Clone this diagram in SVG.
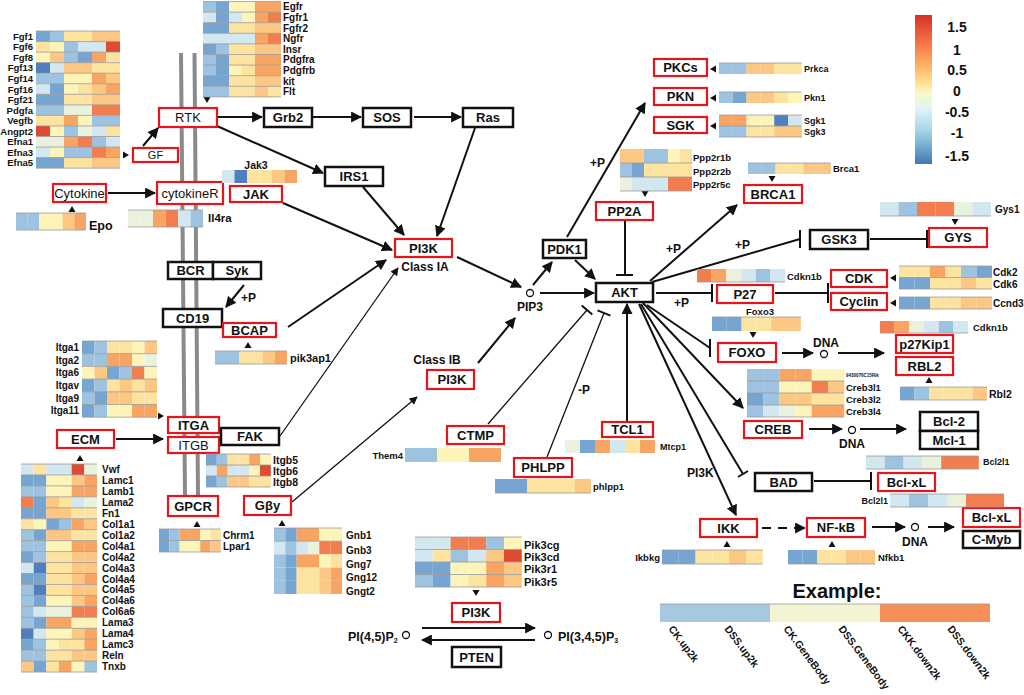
<svg xmlns="http://www.w3.org/2000/svg" width="1024" height="695" viewBox="0 0 1024 695">
<style>
text{font-family:"Liberation Sans",Arial,sans-serif;fill:#111}
.node text{font-size:13px;font-weight:bold;text-anchor:middle;dominant-baseline:central}
.node.nw text{font-weight:normal}
.red rect{fill:#fff;stroke:#e8141b;stroke-width:2.2}
.blk rect{fill:#fff;stroke:#111;stroke-width:2.5}
.gl{font-size:9.5px;font-weight:bold;dominant-baseline:central}
.e{text-anchor:end}
.m{text-anchor:middle}
.lb{font-size:12px;font-weight:bold}
.cn path{fill:none;stroke:#111;stroke-width:2}
.cn path.t{stroke-width:1.3}
.hm rect{width:1px;height:1px}
.sep{fill:none;stroke:#9a9a9a;stroke-width:0.8;vector-effect:non-scaling-stroke}
.b3{fill:#4f7fbf}.b2{fill:#77a5d2}.b1{fill:#9dc3e0}.b0{fill:#d3e7f1}.g{fill:#eaf2de}.y0{fill:#fcf4b8}.y1{fill:#fde3a0}.o1{fill:#fcc782}.o2{fill:#f8a563}.o3{fill:#f27e4f}.r{fill:#dd4b33}
.tri{fill:#111}
.mem{stroke:#8a8a8a;stroke-width:4}
</style>
<defs>
<marker id="ah" viewBox="0 0 10 10" refX="9" refY="5" markerWidth="11" markerHeight="11" markerUnits="userSpaceOnUse" orient="auto"><path d="M0,0L10,5L0,10z" fill="#111"/></marker>
<marker id="ahs" viewBox="0 0 10 10" refX="9" refY="5" markerWidth="9" markerHeight="8" markerUnits="userSpaceOnUse" orient="auto"><path d="M0,0L10,5L0,10z" fill="#111"/></marker>
<linearGradient id="cbar" x1="0" y1="0" x2="0" y2="1">
<stop offset="0" stop-color="#d73027"/><stop offset="0.17" stop-color="#f46d43"/><stop offset="0.33" stop-color="#fdae61"/><stop offset="0.45" stop-color="#fee090"/><stop offset="0.53" stop-color="#f7f9c8"/><stop offset="0.63" stop-color="#e0f3f8"/><stop offset="0.76" stop-color="#abd9e9"/><stop offset="0.88" stop-color="#74add1"/><stop offset="1" stop-color="#4575b4"/>
</linearGradient>
</defs>
<rect width="1024" height="695" fill="#fff"/>

<g id="membrane">
<path class="mem" d="M181,53L185,497M194.5,53L198,497"/>
</g>

<g id="connectors" class="cn">
<path d="M143,146L158,128" marker-end="url(#ah)"/>
<path d="M217,117H262" marker-end="url(#ah)"/>
<path d="M313,117H361" marker-end="url(#ah)"/>
<path d="M414,117H461" marker-end="url(#ah)"/>
<path d="M217,126L323,173" marker-end="url(#ah)"/>
<path d="M108,193H155" marker-end="url(#ah)"/>
<path d="M475,128L437,236" marker-end="url(#ah)"/>
<path d="M363,187L404,235" marker-end="url(#ah)"/>
<path d="M283,203L392,250" marker-end="url(#ah)"/>
<path d="M288,327L386,260" marker-end="url(#ah)"/>
<path class="t" d="M280,436L398,268" marker-end="url(#ahs)"/>
<path d="M244,285L226,307" marker-end="url(#ah)"/>
<path d="M116,439H163" marker-end="url(#ah)"/>
<path class="t" d="M292,502L417,397" marker-end="url(#ahs)"/>
<path d="M457,257L521,287" marker-end="url(#ah)"/>
<path d="M478,363L515,318" marker-end="url(#ah)"/>
<path d="M533,285L552,262" marker-end="url(#ah)"/>
<path d="M540,293H594" marker-end="url(#ah)"/>
<path d="M575,260L595,279" marker-end="url(#ah)"/>
<path d="M567,237L645,103" marker-end="url(#ah)"/>
<path d="M625,221V275M616,275H633"/>
<path d="M627,422V304" marker-end="url(#ah)"/>
<path class="t" d="M488,424L587,310"/>
<path d="M581.7,305.4L592.3,314.6"/>
<path class="t" d="M547,457L604,313"/>
<path d="M597.5,310.4L610.5,315.6"/>
<path d="M650,281L737,205" marker-end="url(#ah)"/>
<path d="M652,282L800,239M800,230V248"/>
<path d="M870,239H927M927,230V248"/>
<path d="M656,293H712M712,284V302"/>
<path d="M775,293H828M828,283V303"/>
<path d="M647,305L710,348M710,339V357"/>
<path d="M782,353H813" marker-end="url(#ah)"/>
<path d="M838,353H884" marker-end="url(#ah)"/>
<path d="M643,303L743,408" marker-end="url(#ah)"/>
<path d="M809,429H842" marker-end="url(#ah)"/>
<path d="M860,429H906" marker-end="url(#ah)"/>
<path d="M641,304L743,474M738,477L748,471"/>
<path d="M814,481H871M871,472V490"/>
<path d="M639,304L736,515" marker-end="url(#ah)"/>
<path d="M762,528H805" stroke-dasharray="9,7" marker-end="url(#ah)"/>
<path d="M872,527H905" marker-end="url(#ah)"/>
<path d="M928,527H954" marker-end="url(#ah)"/>
<path d="M422,628H535" marker-end="url(#ah)"/>
<path d="M535,640H422" marker-end="url(#ah)"/>
<circle cx="530" cy="293" r="3.5" fill="#fff" stroke="#111" stroke-width="1.3"/>
<circle cx="824" cy="354" r="3.5" fill="#fff" stroke="#111" stroke-width="1.3"/>
<circle cx="852" cy="430" r="3.5" fill="#fff" stroke="#111" stroke-width="1.3"/>
<circle cx="915" cy="527" r="3.5" fill="#fff" stroke="#111" stroke-width="1.3"/>
<circle cx="406" cy="635" r="3.5" fill="#fff" stroke="#111" stroke-width="1.3"/>
<circle cx="548" cy="635" r="3.5" fill="#fff" stroke="#111" stroke-width="1.3"/>
</g>

<g id="pointers" class="tri">
<path d="M123,151.5v7l6,-3.5z"/>
<path d="M203.5,97h7l-3.5,6z"/>
<path d="M68.5,212h7l-3.5,-6z"/>
<path d="M244.5,348h7l-3.5,-6z"/>
<path d="M158,412.5v7l6,-3.5z"/>
<path d="M76.5,461h7l-3.5,-6z"/>
<path d="M193.5,527h7l-3.5,-6z"/>
<path d="M278.5,526h7l-3.5,-6z"/>
<path d="M472.5,590h7l-3.5,6z"/>
<path d="M716,65.5v7l-6,-3.5z"/>
<path d="M716,94.5v7l-6,-3.5z"/>
<path d="M716,122.5v7l-6,-3.5z"/>
<path d="M641.5,191h7l-3.5,6z"/>
<path d="M768.5,176h7l-3.5,6z"/>
<path d="M951.5,219h7l-3.5,6z"/>
<path d="M896,274.5v7l-6,-3.5z"/>
<path d="M896,299.5v7l-6,-3.5z"/>
<path d="M749.5,332h7l-3.5,6z"/>
<path d="M925.5,383h7l-3.5,-6z"/>
<path d="M723.5,547h7l-3.5,-6z"/>
<path d="M828.5,547h7l-3.5,-6z"/>
</g>

<g id="n-gf" class="node red nw"><rect x="133" y="148" width="45" height="14"/><text x="155.5" y="155" style="font-size:11px">GF</text></g>
<g id="n-rtk" class="node red nw"><rect x="159" y="108" width="58" height="19"/><text x="188" y="117.5">RTK</text></g>
<g id="n-grb2" class="node blk"><rect x="264" y="108" width="48" height="19"/><text x="288" y="117.5">Grb2</text></g>
<g id="n-sos" class="node blk"><rect x="363" y="108" width="48" height="19"/><text x="387" y="117.5">SOS</text></g>
<g id="n-ras" class="node blk"><rect x="463" y="108" width="50" height="19"/><text x="488" y="117.5">Ras</text></g>
<g id="n-irs1" class="node blk"><rect x="325" y="167" width="58" height="19"/><text x="354" y="176.5">IRS1</text></g>
<g id="n-jak" class="node red"><rect x="230" y="186" width="52" height="16"/><text x="256" y="194">JAK</text></g>
<g id="n-cytokine" class="node red nw"><rect x="53" y="184" width="53" height="18"/><text x="79.5" y="193">Cytokine</text></g>
<g id="n-cytokiner" class="node red nw"><rect x="157" y="182" width="66" height="22"/><text x="190" y="193">cytokineR</text></g>
<g id="n-bcr" class="node blk"><rect x="168" y="262" width="45" height="17"/><text x="190.5" y="270.5">BCR</text></g>
<g id="n-syk" class="node blk"><rect x="213" y="262" width="48" height="17"/><text x="237" y="270.5">Syk</text></g>
<g id="n-cd19" class="node blk"><rect x="163" y="309" width="59" height="18"/><text x="192.5" y="318">CD19</text></g>
<g id="n-bcap" class="node red"><rect x="223" y="323" width="53" height="14"/><text x="249.5" y="330">BCAP</text></g>
<g id="n-itga" class="node red"><rect x="168" y="417" width="51" height="16"/><text x="193.5" y="425">ITGA</text></g>
<g id="n-itgb" class="node red nw"><rect x="168" y="437" width="51" height="16"/><text x="193.5" y="445">ITGB</text></g>
<g id="n-fak" class="node blk"><rect x="221" y="428" width="58" height="17"/><text x="250" y="436.5">FAK</text></g>
<g id="n-ecm" class="node red"><rect x="57" y="430" width="57" height="18"/><text x="85.5" y="439">ECM</text></g>
<g id="n-gpcr" class="node red"><rect x="168" y="496" width="50" height="20"/><text x="193" y="506">GPCR</text></g>
<g id="n-gby" class="node red"><rect x="244" y="496" width="47" height="19"/><text x="267.5" y="505.5">Gβy</text></g>
<g id="n-pi3k-ia" class="node red"><rect x="395" y="239" width="57" height="18"/><text x="423.5" y="248">PI3K</text></g>
<g id="n-pi3k-ib" class="node red"><rect x="427" y="370" width="47" height="19"/><text x="452" y="379.5">PI3K</text></g>
<g id="n-pdk1" class="node blk"><rect x="543" y="240" width="43" height="18"/><text x="564.5" y="249">PDK1</text></g>
<g id="n-akt" class="node blk"><rect x="596" y="283" width="57" height="19"/><text x="624.5" y="292.5">AKT</text></g>
<g id="n-pp2a" class="node red"><rect x="596" y="202" width="57" height="18"/><text x="624.5" y="211">PP2A</text></g>
<g id="n-pkcs" class="node red"><rect x="654" y="59" width="53" height="17"/><text x="680.5" y="67.5">PKCs</text></g>
<g id="n-pkn" class="node red"><rect x="654" y="88" width="53" height="17"/><text x="680.5" y="96.5">PKN</text></g>
<g id="n-sgk" class="node red"><rect x="654" y="117" width="53" height="16"/><text x="680.5" y="125">SGK</text></g>
<g id="n-brca1" class="node red"><rect x="744" y="185" width="58" height="18"/><text x="773" y="194">BRCA1</text></g>
<g id="n-gsk3" class="node blk"><rect x="810" y="230" width="58" height="19"/><text x="839" y="239.5">GSK3</text></g>
<g id="n-gys" class="node red"><rect x="929" y="228" width="58" height="19"/><text x="958" y="237.5">GYS</text></g>
<g id="n-p27" class="node red"><rect x="717" y="285" width="56" height="18"/><text x="745" y="294">P27</text></g>
<g id="n-cdk" class="node red"><rect x="831" y="270" width="56" height="17"/><text x="859" y="278.5">CDK</text></g>
<g id="n-cyclin" class="node red"><rect x="831" y="293" width="56" height="17"/><text x="859" y="301.5">Cyclin</text></g>
<g id="n-foxo" class="node red"><rect x="718" y="343" width="58" height="19"/><text x="747" y="352.5">FOXO</text></g>
<g id="n-p27kip1" class="node red"><rect x="896" y="335" width="57" height="18"/><text x="924.5" y="344">p27Kip1</text></g>
<g id="n-rbl2" class="node red"><rect x="896" y="357" width="57" height="18"/><text x="924.5" y="366">RBL2</text></g>
<g id="n-creb" class="node red"><rect x="744" y="421" width="58" height="17"/><text x="773" y="429.5">CREB</text></g>
<g id="n-bcl2" class="node blk"><rect x="920" y="412" width="58" height="19"/><text x="949" y="421.5">Bcl-2</text></g>
<g id="n-mcl1" class="node blk"><rect x="920" y="431" width="58" height="18"/><text x="949" y="440">Mcl-1</text></g>
<g id="n-bad" class="node blk"><rect x="755" y="473" width="57" height="18"/><text x="783.5" y="482">BAD</text></g>
<g id="n-bclxl" class="node red"><rect x="878" y="473" width="57" height="18"/><text x="906.5" y="482">Bcl-xL</text></g>
<g id="n-ikk" class="node red"><rect x="700" y="519" width="57" height="18"/><text x="728.5" y="528">IKK</text></g>
<g id="n-nfkb" class="node red"><rect x="807" y="518" width="58" height="19"/><text x="836" y="527.5">NF-kB</text></g>
<g id="n-bclxl2" class="node red"><rect x="963" y="508" width="57" height="19"/><text x="991.5" y="517.5">Bcl-xL</text></g>
<g id="n-cmyb" class="node blk"><rect x="963" y="531" width="57" height="17"/><text x="991.5" y="539.5">C-Myb</text></g>
<g id="n-ctmp" class="node red"><rect x="447" y="426" width="57" height="18"/><text x="475.5" y="435">CTMP</text></g>
<g id="n-phlpp" class="node red"><rect x="514" y="458" width="58" height="19"/><text x="543" y="467.5">PHLPP</text></g>
<g id="n-tcl1" class="node red"><rect x="602" y="422" width="51" height="15"/><text x="627.5" y="429.5">TCL1</text></g>
<g id="n-pi3k-bot" class="node red"><rect x="452" y="603" width="48" height="19"/><text x="476" y="612.5">PI3K</text></g>
<g id="n-pten" class="node blk"><rect x="452" y="647" width="49" height="20"/><text x="476.5" y="657">PTEN</text></g>

<g id="labels">
<text class="lb" x="241" y="302">+P</text>
<text class="lb" x="590" y="167">+P</text>
<text class="lb" x="666" y="253">+P</text>
<text class="lb" x="735" y="249">+P</text>
<text class="lb" x="674" y="307">+P</text>
<text class="lb" x="578" y="394">-P</text>
<text class="lb" x="687" y="477">PI3K</text>
<text class="lb m" x="530" y="311">PIP3</text>
<text class="lb m" x="425" y="271">Class IA</text>
<text class="lb m" x="437" y="364">Class IB</text>
<text class="lb m" x="826" y="347">DNA</text>
<text class="lb m" x="852" y="448">DNA</text>
<text class="lb m" x="915" y="546">DNA</text>
<text class="lb" x="348" y="641" style="font-size:12.5px">PI(4,5)P<tspan font-size="7" dy="2">2</tspan></text>
<text class="lb" x="558" y="641" style="font-size:12.5px">PI(3,4,5)P<tspan font-size="7" dy="2">3</tspan></text>
</g>

<g id="hm-fgf" class="hm" transform="translate(36,31) scale(14,10.55)">
<rect class="b2" x="0" y="0"/><rect class="b1" x="1" y="0"/><rect class="y1" x="2" y="0"/><rect class="y1" x="3" y="0"/><rect class="o1" x="4" y="0"/><rect class="o1" x="5" y="0"/>
<rect class="y1" x="0" y="1"/><rect class="y0" x="1" y="1"/><rect class="b1" x="2" y="1"/><rect class="b0" x="3" y="1"/><rect class="b0" x="4" y="1"/><rect class="r" x="5" y="1"/>
<rect class="y0" x="0" y="2"/><rect class="o1" x="1" y="2"/><rect class="b1" x="2" y="2"/><rect class="b2" x="3" y="2"/><rect class="o2" x="4" y="2"/><rect class="y1" x="5" y="2"/>
<rect class="b3" x="0" y="3"/><rect class="b0" x="1" y="3"/><rect class="o1" x="2" y="3"/><rect class="o1" x="3" y="3"/><rect class="y1" x="4" y="3"/><rect class="y1" x="5" y="3"/>
<rect class="b1" x="0" y="4"/><rect class="b1" x="1" y="4"/><rect class="y0" x="2" y="4"/><rect class="y0" x="3" y="4"/><rect class="o2" x="4" y="4"/><rect class="o1" x="5" y="4"/>
<rect class="b0" x="0" y="5"/><rect class="b2" x="1" y="5"/><rect class="y0" x="2" y="5"/><rect class="y1" x="3" y="5"/><rect class="o1" x="4" y="5"/><rect class="o2" x="5" y="5"/>
<rect class="b2" x="0" y="6"/><rect class="b2" x="1" y="6"/><rect class="y1" x="2" y="6"/><rect class="y1" x="3" y="6"/><rect class="o1" x="4" y="6"/><rect class="o1" x="5" y="6"/>
<rect class="b1" x="0" y="7"/><rect class="b1" x="1" y="7"/><rect class="g" x="2" y="7"/><rect class="g" x="3" y="7"/><rect class="o3" x="4" y="7"/><rect class="o3" x="5" y="7"/>
<rect class="y1" x="0" y="8"/><rect class="y1" x="1" y="8"/><rect class="o2" x="2" y="8"/><rect class="y0" x="3" y="8"/><rect class="b1" x="4" y="8"/><rect class="b1" x="5" y="8"/>
<rect class="r" x="0" y="9"/><rect class="y0" x="1" y="9"/><rect class="b1" x="2" y="9"/><rect class="g" x="3" y="9"/><rect class="b0" x="4" y="9"/><rect class="y1" x="5" y="9"/>
<rect class="g" x="0" y="10"/><rect class="g" x="1" y="10"/><rect class="o2" x="2" y="10"/><rect class="o3" x="3" y="10"/><rect class="b1" x="4" y="10"/><rect class="b0" x="5" y="10"/>
<rect class="b0" x="0" y="11"/><rect class="y0" x="1" y="11"/><rect class="b1" x="2" y="11"/><rect class="b1" x="3" y="11"/><rect class="o3" x="4" y="11"/><rect class="o2" x="5" y="11"/>
<rect class="b2" x="0" y="12"/><rect class="b2" x="1" y="12"/><rect class="y1" x="2" y="12"/><rect class="y1" x="3" y="12"/><rect class="o1" x="4" y="12"/><rect class="o1" x="5" y="12"/>
<path class="sep" d="M0,0H6M0,1H6M0,2H6M0,3H6M0,4H6M0,5H6M0,6H6M0,7H6M0,8H6M0,9H6M0,10H6M0,11H6M0,12H6M0,13H6"/>
</g>
<g id="lbl-fgf" class="gl e">
<text x="33" y="36.3">Fgf1</text><text x="33" y="46.8">Fgf6</text><text x="33" y="57.4">Fgf8</text><text x="33" y="67.9">Fgf13</text><text x="33" y="78.5">Fgf14</text><text x="33" y="89">Fgf16</text><text x="33" y="99.6">Fgf21</text><text x="33" y="110.1">Pdgfa</text><text x="33" y="120.7">Vegfb</text><text x="33" y="131.2">Angpt2</text><text x="33" y="141.8">Efna1</text><text x="33" y="152.3">Efna3</text><text x="33" y="162.9">Efna5</text>
</g>

<g id="hm-egfr" class="hm" transform="translate(203,1.5) scale(13,10.6)">
<rect class="b1" x="0" y="0"/><rect class="b2" x="1" y="0"/><rect class="y0" x="2" y="0"/><rect class="y0" x="3" y="0"/><rect class="o2" x="4" y="0"/><rect class="o2" x="5" y="0"/>
<rect class="b0" x="0" y="1"/><rect class="b2" x="1" y="1"/><rect class="b0" x="2" y="1"/><rect class="y0" x="3" y="1"/><rect class="o2" x="4" y="1"/><rect class="o3" x="5" y="1"/>
<rect class="b2" x="0" y="2"/><rect class="b2" x="1" y="2"/><rect class="y1" x="2" y="2"/><rect class="y1" x="3" y="2"/><rect class="o1" x="4" y="2"/><rect class="o1" x="5" y="2"/>
<rect class="b0" x="0" y="3"/><rect class="b0" x="1" y="3"/><rect class="b0" x="2" y="3"/><rect class="b0" x="3" y="3"/><rect class="o2" x="4" y="3"/><rect class="o3" x="5" y="3"/>
<rect class="b2" x="0" y="4"/><rect class="b1" x="1" y="4"/><rect class="y1" x="2" y="4"/><rect class="y1" x="3" y="4"/><rect class="o1" x="4" y="4"/><rect class="o1" x="5" y="4"/>
<rect class="b1" x="0" y="5"/><rect class="b2" x="1" y="5"/><rect class="y1" x="2" y="5"/><rect class="y1" x="3" y="5"/><rect class="o2" x="4" y="5"/><rect class="o2" x="5" y="5"/>
<rect class="b1" x="0" y="6"/><rect class="b2" x="1" y="6"/><rect class="y0" x="2" y="6"/><rect class="y1" x="3" y="6"/><rect class="o2" x="4" y="6"/><rect class="o2" x="5" y="6"/>
<rect class="b2" x="0" y="7"/><rect class="b2" x="1" y="7"/><rect class="y1" x="2" y="7"/><rect class="y1" x="3" y="7"/><rect class="o1" x="4" y="7"/><rect class="o1" x="5" y="7"/>
<rect class="b1" x="0" y="8"/><rect class="b1" x="1" y="8"/><rect class="y1" x="2" y="8"/><rect class="y1" x="3" y="8"/><rect class="o1" x="4" y="8"/><rect class="y1" x="5" y="8"/>
<path class="sep" d="M0,0H6M0,1H6M0,2H6M0,3H6M0,4H6M0,5H6M0,6H6M0,7H6M0,8H6M0,9H6"/>
</g>
<g id="lbl-egfr" class="gl" style="font-size:10px">
<text x="283" y="6.8">Egfr</text><text x="283" y="17.4">Fgfr1</text><text x="283" y="28">Fgfr2</text><text x="283" y="38.6">Ngfr</text><text x="283" y="49.2">Insr</text><text x="283" y="59.8">Pdgfra</text><text x="283" y="70.4">Pdgfrb</text><text x="283" y="81">kit</text><text x="283" y="91.6">Flt</text>
</g>

<g id="hm-jak3" class="hm" transform="translate(222,170) scale(12.5,13)">
<rect class="b0" x="0" y="0"/><rect class="b3" x="1" y="0"/><rect class="y1" x="2" y="0"/><rect class="y1" x="3" y="0"/><rect class="o1" x="4" y="0"/><rect class="o2" x="5" y="0"/>
</g>
<text class="gl m" x="256" y="164.5" style="font-size:10.5px">Jak3</text>

<g id="hm-epo" class="hm" transform="translate(16,213) scale(11.67,17)">
<rect class="b1" x="0" y="0"/><rect class="b1" x="1" y="0"/><rect class="y0" x="2" y="0"/><rect class="y0" x="3" y="0"/><rect class="o1" x="4" y="0"/><rect class="o2" x="5" y="0"/>
<path class="sep" d="M0,0H6M0,1H6"/>
</g>
<text class="gl" x="89" y="226" style="font-size:12.5px">Epo</text>

<g id="hm-il4ra" class="hm" transform="translate(128,210) scale(12.5,17)">
<rect class="g" x="0" y="0"/><rect class="g" x="1" y="0"/><rect class="o2" x="2" y="0"/><rect class="o3" x="3" y="0"/><rect class="b0" x="4" y="0"/><rect class="b1" x="5" y="0"/>
<path class="sep" d="M0,0H6M0,1H6"/>
</g>
<text class="gl" x="208" y="218" style="font-size:11.5px">Il4ra</text>

<g id="hm-pik3ap1" class="hm" transform="translate(215,351) scale(12,13)">
<rect class="b1" x="0" y="0"/><rect class="b1" x="1" y="0"/><rect class="y1" x="2" y="0"/><rect class="y1" x="3" y="0"/><rect class="o1" x="4" y="0"/><rect class="o2" x="5" y="0"/>
<path class="sep" d="M0,0H6M0,1H6"/>
</g>
<text class="gl" x="290" y="358" style="font-size:11px">pik3ap1</text>

<g id="hm-itga" class="hm" transform="translate(82,341) scale(12.5,12.7)">
<rect class="b2" x="0" y="0"/><rect class="b1" x="1" y="0"/><rect class="y1" x="2" y="0"/><rect class="y1" x="3" y="0"/><rect class="y0" x="4" y="0"/><rect class="o1" x="5" y="0"/>
<rect class="b1" x="0" y="1"/><rect class="b1" x="1" y="1"/><rect class="o2" x="2" y="1"/><rect class="o2" x="3" y="1"/><rect class="y0" x="4" y="1"/><rect class="g" x="5" y="1"/>
<rect class="y0" x="0" y="2"/><rect class="o1" x="1" y="2"/><rect class="b2" x="2" y="2"/><rect class="b1" x="3" y="2"/><rect class="o3" x="4" y="2"/><rect class="y0" x="5" y="2"/>
<rect class="b2" x="0" y="3"/><rect class="b1" x="1" y="3"/><rect class="y1" x="2" y="3"/><rect class="o1" x="3" y="3"/><rect class="y1" x="4" y="3"/><rect class="o1" x="5" y="3"/>
<rect class="b1" x="0" y="4"/><rect class="b2" x="1" y="4"/><rect class="o1" x="2" y="4"/><rect class="o1" x="3" y="4"/><rect class="y1" x="4" y="4"/><rect class="y1" x="5" y="4"/>
<rect class="b2" x="0" y="5"/><rect class="b1" x="1" y="5"/><rect class="y0" x="2" y="5"/><rect class="y0" x="3" y="5"/><rect class="o2" x="4" y="5"/><rect class="o2" x="5" y="5"/>
<path class="sep" d="M0,0H6M0,1H6M0,2H6M0,3H6M0,4H6M0,5H6M0,6H6"/>
</g>
<g id="lbl-itga" class="gl e" style="font-size:10px">
<text x="79" y="347.4">Itga1</text><text x="79" y="360">Itga2</text><text x="79" y="372.8">Itga6</text><text x="79" y="385.5">Itgav</text><text x="79" y="398.2">Itga9</text><text x="79" y="410.9">Itga11</text>
</g>

<g id="hm-vwf" class="hm" transform="translate(21,464) scale(12.67,10.95)">
<rect class="b0" x="0" y="0"/><rect class="y1" x="1" y="0"/><rect class="b0" x="2" y="0"/><rect class="b0" x="3" y="0"/><rect class="r" x="4" y="0"/><rect class="g" x="5" y="0"/>
<rect class="b2" x="0" y="1"/><rect class="b2" x="1" y="1"/><rect class="y0" x="2" y="1"/><rect class="y0" x="3" y="1"/><rect class="o1" x="4" y="1"/><rect class="o2" x="5" y="1"/>
<rect class="b1" x="0" y="2"/><rect class="b1" x="1" y="2"/><rect class="y0" x="2" y="2"/><rect class="y0" x="3" y="2"/><rect class="o2" x="4" y="2"/><rect class="o2" x="5" y="2"/>
<rect class="o3" x="0" y="3"/><rect class="b2" x="1" y="3"/><rect class="o1" x="2" y="3"/><rect class="y1" x="3" y="3"/><rect class="b0" x="4" y="3"/><rect class="g" x="5" y="3"/>
<rect class="b2" x="0" y="4"/><rect class="b2" x="1" y="4"/><rect class="o1" x="2" y="4"/><rect class="o1" x="3" y="4"/><rect class="y1" x="4" y="4"/><rect class="y1" x="5" y="4"/>
<rect class="y1" x="0" y="5"/><rect class="y0" x="1" y="5"/><rect class="b2" x="2" y="5"/><rect class="b1" x="3" y="5"/><rect class="o2" x="4" y="5"/><rect class="o1" x="5" y="5"/>
<rect class="b1" x="0" y="6"/><rect class="b2" x="1" y="6"/><rect class="o1" x="2" y="6"/><rect class="o1" x="3" y="6"/><rect class="y1" x="4" y="6"/><rect class="y1" x="5" y="6"/>
<rect class="b1" x="0" y="7"/><rect class="b1" x="1" y="7"/><rect class="y0" x="2" y="7"/><rect class="y0" x="3" y="7"/><rect class="o2" x="4" y="7"/><rect class="o2" x="5" y="7"/>
<rect class="b2" x="0" y="8"/><rect class="b1" x="1" y="8"/><rect class="y1" x="2" y="8"/><rect class="y1" x="3" y="8"/><rect class="o1" x="4" y="8"/><rect class="o1" x="5" y="8"/>
<rect class="b0" x="0" y="9"/><rect class="b3" x="1" y="9"/><rect class="y1" x="2" y="9"/><rect class="y1" x="3" y="9"/><rect class="o1" x="4" y="9"/><rect class="o1" x="5" y="9"/>
<rect class="b2" x="0" y="10"/><rect class="b2" x="1" y="10"/><rect class="y1" x="2" y="10"/><rect class="y1" x="3" y="10"/><rect class="o1" x="4" y="10"/><rect class="o2" x="5" y="10"/>
<rect class="b1" x="0" y="11"/><rect class="b3" x="1" y="11"/><rect class="y1" x="2" y="11"/><rect class="y1" x="3" y="11"/><rect class="o1" x="4" y="11"/><rect class="o1" x="5" y="11"/>
<rect class="b1" x="0" y="12"/><rect class="b2" x="1" y="12"/><rect class="y0" x="2" y="12"/><rect class="y0" x="3" y="12"/><rect class="o1" x="4" y="12"/><rect class="o2" x="5" y="12"/>
<rect class="b1" x="0" y="13"/><rect class="b0" x="1" y="13"/><rect class="g" x="2" y="13"/><rect class="g" x="3" y="13"/><rect class="o3" x="4" y="13"/><rect class="o3" x="5" y="13"/>
<rect class="b1" x="0" y="14"/><rect class="b2" x="1" y="14"/><rect class="o2" x="2" y="14"/><rect class="o2" x="3" y="14"/><rect class="y0" x="4" y="14"/><rect class="y0" x="5" y="14"/>
<rect class="b3" x="0" y="15"/><rect class="b0" x="1" y="15"/><rect class="y0" x="2" y="15"/><rect class="y0" x="3" y="15"/><rect class="o1" x="4" y="15"/><rect class="o2" x="5" y="15"/>
<rect class="b2" x="0" y="16"/><rect class="b1" x="1" y="16"/><rect class="y0" x="2" y="16"/><rect class="y1" x="3" y="16"/><rect class="y1" x="4" y="16"/><rect class="o2" x="5" y="16"/>
<rect class="b1" x="0" y="17"/><rect class="b1" x="1" y="17"/><rect class="y1" x="2" y="17"/><rect class="y1" x="3" y="17"/><rect class="o1" x="4" y="17"/><rect class="o1" x="5" y="17"/>
<rect class="o1" x="0" y="18"/><rect class="b2" x="1" y="18"/><rect class="y1" x="2" y="18"/><rect class="o2" x="3" y="18"/><rect class="y0" x="4" y="18"/><rect class="b1" x="5" y="18"/>
<path class="sep" d="M0,0H6M0,1H6M0,2H6M0,3H6M0,4H6M0,5H6M0,6H6M0,7H6M0,8H6M0,9H6M0,10H6M0,11H6M0,12H6M0,13H6M0,14H6M0,15H6M0,16H6M0,17H6M0,18H6M0,19H6"/>
</g>
<g id="lbl-vwf" class="gl" style="font-size:10px">
<text x="102" y="469.5">Vwf</text><text x="102" y="480.4">Lamc1</text><text x="102" y="491.4">Lamb1</text><text x="102" y="502.3">Lama2</text><text x="102" y="513.3">Fn1</text><text x="102" y="524.2">Col1a1</text><text x="102" y="535.2">Col1a2</text><text x="102" y="546.1">Col4a1</text><text x="102" y="557.1">Col4a2</text><text x="102" y="568">Col4a3</text><text x="102" y="579">Col4a4</text><text x="102" y="589.9">Col4a5</text><text x="102" y="600.9">Col4a6</text><text x="102" y="611.8">Col6a6</text><text x="102" y="622.8">Lama3</text><text x="102" y="633.7">Lama4</text><text x="102" y="644.7">Lamc3</text><text x="102" y="655.6">Reln</text><text x="102" y="666.6">Tnxb</text>
</g>

<g id="hm-itgb" class="hm" transform="translate(206,454) scale(10.8,11)">
<rect class="b2" x="0" y="0"/><rect class="b1" x="1" y="0"/><rect class="y1" x="2" y="0"/><rect class="y1" x="3" y="0"/><rect class="o2" x="4" y="0"/><rect class="y0" x="5" y="0"/>
<rect class="b0" x="0" y="1"/><rect class="o2" x="1" y="1"/><rect class="b0" x="2" y="1"/><rect class="b0" x="3" y="1"/><rect class="y0" x="4" y="1"/><rect class="r" x="5" y="1"/>
<rect class="b2" x="0" y="2"/><rect class="b1" x="1" y="2"/><rect class="o1" x="2" y="2"/><rect class="o1" x="3" y="2"/><rect class="y1" x="4" y="2"/><rect class="y1" x="5" y="2"/>
<path class="sep" d="M0,0H6M0,1H6M0,2H6M0,3H6"/>
</g>
<g id="lbl-itgb" class="gl" style="font-size:10.5px">
<text x="273" y="459.5">Itgb5</text><text x="273" y="470.5">Itgb6</text><text x="273" y="481.5">Itgb8</text>
</g>

<g id="hm-chrm" class="hm" transform="translate(159,529) scale(10.3,11.5)">
<rect class="b2" x="0" y="0"/><rect class="b1" x="1" y="0"/><rect class="o2" x="2" y="0"/><rect class="o2" x="3" y="0"/><rect class="y0" x="4" y="0"/><rect class="y1" x="5" y="0"/>
<rect class="b2" x="0" y="1"/><rect class="b1" x="1" y="1"/><rect class="y0" x="2" y="1"/><rect class="y0" x="3" y="1"/><rect class="o2" x="4" y="1"/><rect class="o1" x="5" y="1"/>
<path class="sep" d="M0,0H6M0,1H6M0,2H6"/>
</g>
<g id="lbl-chrm" class="gl" style="font-size:10px">
<text x="223" y="535">Chrm1</text><text x="223" y="546.5">Lpar1</text>
</g>

<g id="hm-gnb" class="hm" transform="translate(274,528) scale(11.33,13.2)">
<rect class="b1" x="0" y="0"/><rect class="b2" x="1" y="0"/><rect class="o2" x="2" y="0"/><rect class="o2" x="3" y="0"/><rect class="y0" x="4" y="0"/><rect class="y0" x="5" y="0"/>
<rect class="b0" x="0" y="1"/><rect class="b1" x="1" y="1"/><rect class="b0" x="2" y="1"/><rect class="g" x="3" y="1"/><rect class="o3" x="4" y="1"/><rect class="o3" x="5" y="1"/>
<rect class="b1" x="0" y="2"/><rect class="b2" x="1" y="2"/><rect class="o2" x="2" y="2"/><rect class="o2" x="3" y="2"/><rect class="y0" x="4" y="2"/><rect class="y1" x="5" y="2"/>
<rect class="b1" x="0" y="3"/><rect class="b2" x="1" y="3"/><rect class="y1" x="2" y="3"/><rect class="y1" x="3" y="3"/><rect class="o1" x="4" y="3"/><rect class="o2" x="5" y="3"/>
<rect class="b1" x="0" y="4"/><rect class="b2" x="1" y="4"/><rect class="y1" x="2" y="4"/><rect class="y1" x="3" y="4"/><rect class="o1" x="4" y="4"/><rect class="o2" x="5" y="4"/>
<path class="sep" d="M0,0H6M0,1H6"/>
</g>
<g id="lbl-gnb" class="gl" style="font-size:10px">
<text x="346" y="535">Gnb1</text><text x="346" y="550">Gnb3</text><text x="346" y="564">Gng7</text><text x="346" y="577.5">Gng12</text><text x="346" y="591">Gngt2</text>
</g>

<g id="hm-pik3" class="hm" transform="translate(415,537) scale(17.8,12.5)">
<rect class="b0" x="0" y="0"/><rect class="b0" x="1" y="0"/><rect class="o3" x="2" y="0"/><rect class="o3" x="3" y="0"/><rect class="b1" x="4" y="0"/><rect class="y0" x="5" y="0"/>
<rect class="b0" x="0" y="1"/><rect class="y1" x="1" y="1"/><rect class="b1" x="2" y="1"/><rect class="b0" x="3" y="1"/><rect class="o1" x="4" y="1"/><rect class="r" x="5" y="1"/>
<rect class="b2" x="0" y="2"/><rect class="b2" x="1" y="2"/><rect class="y0" x="2" y="2"/><rect class="y0" x="3" y="2"/><rect class="o2" x="4" y="2"/><rect class="o1" x="5" y="2"/>
<rect class="b1" x="0" y="3"/><rect class="b2" x="1" y="3"/><rect class="y0" x="2" y="3"/><rect class="y1" x="3" y="3"/><rect class="o2" x="4" y="3"/><rect class="o1" x="5" y="3"/>
<path class="sep" d="M0,0H6M0,1H6M0,2H6M0,3H6M0,4H6"/>
</g>
<g id="lbl-pik3" class="gl" style="font-size:11px">
<text x="524" y="544.5">Pik3cg</text><text x="524" y="556.5">Pik3cd</text><text x="524" y="569">Pik3r1</text><text x="524" y="581.5">Pik3r5</text>
</g>

<g id="hm-them4" class="hm" transform="translate(405,448) scale(16,14)">
<rect class="b1" x="0" y="0"/><rect class="b1" x="1" y="0"/><rect class="y0" x="2" y="0"/><rect class="y0" x="3" y="0"/><rect class="o2" x="4" y="0"/><rect class="o2" x="5" y="0"/>
</g>
<text class="gl e" x="403" y="455">Them4</text>

<g id="hm-phlpp1" class="hm" transform="translate(495,479) scale(16,14)">
<rect class="b2" x="0" y="0"/><rect class="b2" x="1" y="0"/><rect class="y1" x="2" y="0"/><rect class="y1" x="3" y="0"/><rect class="y1" x="4" y="0"/><rect class="o1" x="5" y="0"/>
<path class="sep" d="M0,1H6"/>
</g>
<text class="gl" x="593" y="486">phlpp1</text>

<g id="hm-mtcp1" class="hm" transform="translate(565,440) scale(15,13)">
<rect class="g" x="0" y="0"/><rect class="b2" x="1" y="0"/><rect class="o2" x="2" y="0"/><rect class="b0" x="3" y="0"/><rect class="y1" x="4" y="0"/><rect class="o2" x="5" y="0"/>
</g>
<text class="gl" x="660" y="447" style="font-size:9px">Mtcp1</text>

<g id="hm-prkca" class="hm" transform="translate(719,63) scale(13.8,11)">
<rect class="b1" x="0" y="0"/><rect class="b1" x="1" y="0"/><rect class="o1" x="2" y="0"/><rect class="o1" x="3" y="0"/><rect class="y1" x="4" y="0"/><rect class="y1" x="5" y="0"/>
<path class="sep" d="M0,0H6"/>
</g>
<text class="gl" x="804" y="68.5" style="font-size:9px">Prkca</text>
<g id="hm-pkn1" class="hm" transform="translate(719,92) scale(13.8,11)">
<rect class="b1" x="0" y="0"/><rect class="b2" x="1" y="0"/><rect class="o1" x="2" y="0"/><rect class="o1" x="3" y="0"/><rect class="y1" x="4" y="0"/><rect class="y0" x="5" y="0"/>
<path class="sep" d="M0,0H6"/>
</g>
<text class="gl" x="804" y="98" style="font-size:9px">Pkn1</text>
<g id="hm-sgk" class="hm" transform="translate(719,115) scale(13.8,11)">
<rect class="o2" x="0" y="0"/><rect class="o2" x="1" y="0"/><rect class="y0" x="2" y="0"/><rect class="y0" x="3" y="0"/><rect class="b3" x="4" y="0"/><rect class="b0" x="5" y="0"/>
<rect class="b1" x="0" y="1"/><rect class="b1" x="1" y="1"/><rect class="y1" x="2" y="1"/><rect class="y1" x="3" y="1"/><rect class="o1" x="4" y="1"/><rect class="o1" x="5" y="1"/>
<path class="sep" d="M0,0H6M0,1H6M0,2H6"/>
</g>
<g class="gl" style="font-size:9px"><text x="804" y="120.5">Sgk1</text><text x="804" y="131.5">Sgk3</text></g>

<g id="hm-ppp2r" class="hm" transform="translate(620,149) scale(12,14)">
<rect class="o1" x="0" y="0"/><rect class="o1" x="1" y="0"/><rect class="b1" x="2" y="0"/><rect class="b1" x="3" y="0"/><rect class="y0" x="4" y="0"/><rect class="y1" x="5" y="0"/>
<rect class="b1" x="0" y="1"/><rect class="b2" x="1" y="1"/><rect class="y1" x="2" y="1"/><rect class="y1" x="3" y="1"/><rect class="y1" x="4" y="1"/><rect class="y1" x="5" y="1"/>
<rect class="g" x="0" y="2"/><rect class="b0" x="1" y="2"/><rect class="b0" x="2" y="2"/><rect class="b0" x="3" y="2"/><rect class="o3" x="4" y="2"/><rect class="o3" x="5" y="2"/>
<path class="sep" d="M0,1H6M0,2H6M0,3H6"/>
</g>
<g class="gl"><text x="693" y="157">Ppp2r1b</text><text x="693" y="171">Ppp2r2b</text><text x="693" y="184">Ppp2r5c</text></g>

<g id="hm-brca1" class="hm" transform="translate(748,163) scale(13.8,11)">
<rect class="b1" x="0" y="0"/><rect class="b1" x="1" y="0"/><rect class="y1" x="2" y="0"/><rect class="y1" x="3" y="0"/><rect class="o1" x="4" y="0"/><rect class="o1" x="5" y="0"/>
<path class="sep" d="M0,0H6"/>
</g>
<text class="gl" x="833" y="168">Brca1</text>

<g id="hm-gys1" class="hm" transform="translate(880,202) scale(18.5,14)">
<rect class="b0" x="0" y="0"/><rect class="b1" x="1" y="0"/><rect class="o3" x="2" y="0"/><rect class="o3" x="3" y="0"/><rect class="g" x="4" y="0"/><rect class="b0" x="5" y="0"/>
<path class="sep" d="M0,1H6"/>
</g>
<text class="gl" x="995" y="209" style="font-size:10px">Gys1</text>

<g id="hm-cdkn1b-a" class="hm" transform="translate(697,269) scale(14.7,13)">
<rect class="o3" x="0" y="0"/><rect class="o2" x="1" y="0"/><rect class="g" x="2" y="0"/><rect class="b0" x="3" y="0"/><rect class="b1" x="4" y="0"/><rect class="b0" x="5" y="0"/>
<path class="sep" d="M0,1H6"/>
</g>
<text class="gl" x="787" y="276">Cdkn1b</text>

<g id="hm-cdk" class="hm" transform="translate(899,266) scale(15.5,11.5)">
<rect class="y1" x="0" y="0"/><rect class="y1" x="1" y="0"/><rect class="o2" x="2" y="0"/><rect class="y1" x="3" y="0"/><rect class="b1" x="4" y="0"/><rect class="b2" x="5" y="0"/>
<rect class="b2" x="0" y="1"/><rect class="b2" x="1" y="1"/><rect class="y1" x="2" y="1"/><rect class="y1" x="3" y="1"/><rect class="o1" x="4" y="1"/><rect class="y1" x="5" y="1"/>
<path class="sep" d="M0,0H6M0,1H6M0,2H6"/>
</g>
<g class="gl" style="font-size:10px"><text x="993" y="272">Cdk2</text><text x="993" y="284">Cdk6</text><text x="993" y="303">Ccnd3</text></g>
<g id="hm-ccnd3" class="hm" transform="translate(899,297) scale(15.5,12)">
<rect class="b2" x="0" y="0"/><rect class="b2" x="1" y="0"/><rect class="y1" x="2" y="0"/><rect class="y1" x="3" y="0"/><rect class="o1" x="4" y="0"/><rect class="o1" x="5" y="0"/>
<path class="sep" d="M0,0H6M0,1H6"/>
</g>

<g id="hm-foxo3" class="hm" transform="translate(712,317) scale(14.8,14)">
<rect class="b2" x="0" y="0"/><rect class="b2" x="1" y="0"/><rect class="y1" x="2" y="0"/><rect class="y1" x="3" y="0"/><rect class="o1" x="4" y="0"/><rect class="o1" x="5" y="0"/>
<path class="sep" d="M0,0H6"/>
</g>
<text class="gl m" x="760" y="311">Foxo3</text>

<g id="hm-cdkn1b-b" class="hm" transform="translate(880,321) scale(14.7,12)">
<rect class="o3" x="0" y="0"/><rect class="o2" x="1" y="0"/><rect class="g" x="2" y="0"/><rect class="b0" x="3" y="0"/><rect class="b1" x="4" y="0"/><rect class="b0" x="5" y="0"/>
<path class="sep" d="M0,1H6"/>
</g>
<text class="gl" x="973" y="327">Cdkn1b</text>

<g id="hm-rbl2" class="hm" transform="translate(900,387) scale(14.5,13)">
<rect class="b2" x="0" y="0"/><rect class="b1" x="1" y="0"/><rect class="y1" x="2" y="0"/><rect class="y1" x="3" y="0"/><rect class="y1" x="4" y="0"/><rect class="o1" x="5" y="0"/>
<path class="sep" d="M0,0H6M0,1H6"/>
</g>
<text class="gl" x="989" y="393.5" style="font-size:10.5px">Rbl2</text>

<g id="hm-creb" class="hm" transform="translate(747,369) scale(16.2,12)">
<rect class="b1" x="0" y="0"/><rect class="b1" x="1" y="0"/><rect class="o2" x="2" y="0"/><rect class="o2" x="3" y="0"/><rect class="y0" x="4" y="0"/><rect class="y0" x="5" y="0"/>
<rect class="b1" x="0" y="1"/><rect class="b1" x="1" y="1"/><rect class="y0" x="2" y="1"/><rect class="y0" x="3" y="1"/><rect class="o3" x="4" y="1"/><rect class="o1" x="5" y="1"/>
<rect class="b2" x="0" y="2"/><rect class="b1" x="1" y="2"/><rect class="o1" x="2" y="2"/><rect class="o1" x="3" y="2"/><rect class="y1" x="4" y="2"/><rect class="y1" x="5" y="2"/>
<rect class="b1" x="0" y="3"/><rect class="b0" x="1" y="3"/><rect class="g" x="2" y="3"/><rect class="y0" x="3" y="3"/><rect class="o2" x="4" y="3"/><rect class="o2" x="5" y="3"/>
<path class="sep" d="M0,1H6M0,2H6M0,3H6M0,4H6"/>
</g>
<g class="gl"><text x="846" y="375" style="font-size:4.5px">9430076C15Rik</text><text x="846" y="387">Creb3l1</text><text x="846" y="399">Creb3l2</text><text x="846" y="411">Creb3l4</text></g>

<g id="hm-bcl2l1-a" class="hm" transform="translate(866,456) scale(18.8,13)">
<rect class="b0" x="0" y="0"/><rect class="b1" x="1" y="0"/><rect class="b0" x="2" y="0"/><rect class="g" x="3" y="0"/><rect class="o3" x="4" y="0"/><rect class="o3" x="5" y="0"/>
<path class="sep" d="M0,0H6M0,1H6"/>
</g>
<text class="gl" x="983" y="462" style="font-size:9px">Bcl2l1</text>
<g id="hm-bcl2l1-b" class="hm" transform="translate(890,494) scale(19,13)">
<rect class="b0" x="0" y="0"/><rect class="b1" x="1" y="0"/><rect class="b0" x="2" y="0"/><rect class="g" x="3" y="0"/><rect class="o3" x="4" y="0"/><rect class="o3" x="5" y="0"/>
<path class="sep" d="M0,0H6M0,1H6"/>
</g>
<text class="gl e" x="888" y="500.5" style="font-size:9px">Bcl2l1</text>

<g id="hm-ikbkg" class="hm" transform="translate(662,550) scale(16.8,14)">
<rect class="b2" x="0" y="0"/><rect class="b2" x="1" y="0"/><rect class="y1" x="2" y="0"/><rect class="y1" x="3" y="0"/><rect class="o1" x="4" y="0"/><rect class="y1" x="5" y="0"/>
<path class="sep" d="M0,0H6M0,1H6"/>
</g>
<text class="gl e" x="660" y="557">Ikbkg</text>
<g id="hm-nfkb1" class="hm" transform="translate(788,550) scale(14.5,14)">
<rect class="b2" x="0" y="0"/><rect class="b2" x="1" y="0"/><rect class="y1" x="2" y="0"/><rect class="y1" x="3" y="0"/><rect class="o1" x="4" y="0"/><rect class="o1" x="5" y="0"/>
<path class="sep" d="M0,1H6"/>
</g>
<text class="gl" x="878" y="557">Nfkb1</text>

<g id="example">
<text x="837" y="598" font-size="20" font-weight="bold" text-anchor="middle">Example:</text>
<g class="hm" transform="translate(660,604) scale(55,18)">
<rect x="0" y="0" fill="#a6c9e2"/><rect x="1" y="0" fill="#a6c9e2"/><rect x="2" y="0" fill="#f3f5d2"/><rect x="3" y="0" fill="#f3f5d2"/><rect x="4" y="0" fill="#f58f57"/><rect x="5" y="0" fill="#f58f57"/>
<path class="sep" d="M0,0H6"/>
</g>
<g font-size="10.5" font-weight="bold">
<text transform="translate(668,629) rotate(53)">CK.up2k</text>
<text transform="translate(724,629) rotate(53)">DSS.up2k</text>
<text transform="translate(783,629) rotate(53)">CK.GeneBody</text>
<text transform="translate(838,629) rotate(53)">DSS.GeneBody</text>
<text transform="translate(897,629) rotate(53)">CKK.down2k</text>
<text transform="translate(947,629) rotate(53)">DSS.down2k</text>
</g>
</g>

<g id="colorbar">
<rect x="915" y="15" width="17" height="149" fill="url(#cbar)"/>
<g font-size="14" font-weight="bold" text-anchor="middle" dominant-baseline="central">
<text x="957" y="27">1.5</text><text x="957" y="50">1</text><text x="957" y="70">0.5</text><text x="957" y="91">0</text><text x="957" y="112">-0.5</text><text x="957" y="133">-1</text><text x="957" y="156">-1.5</text>
</g>
</g>
</svg>
